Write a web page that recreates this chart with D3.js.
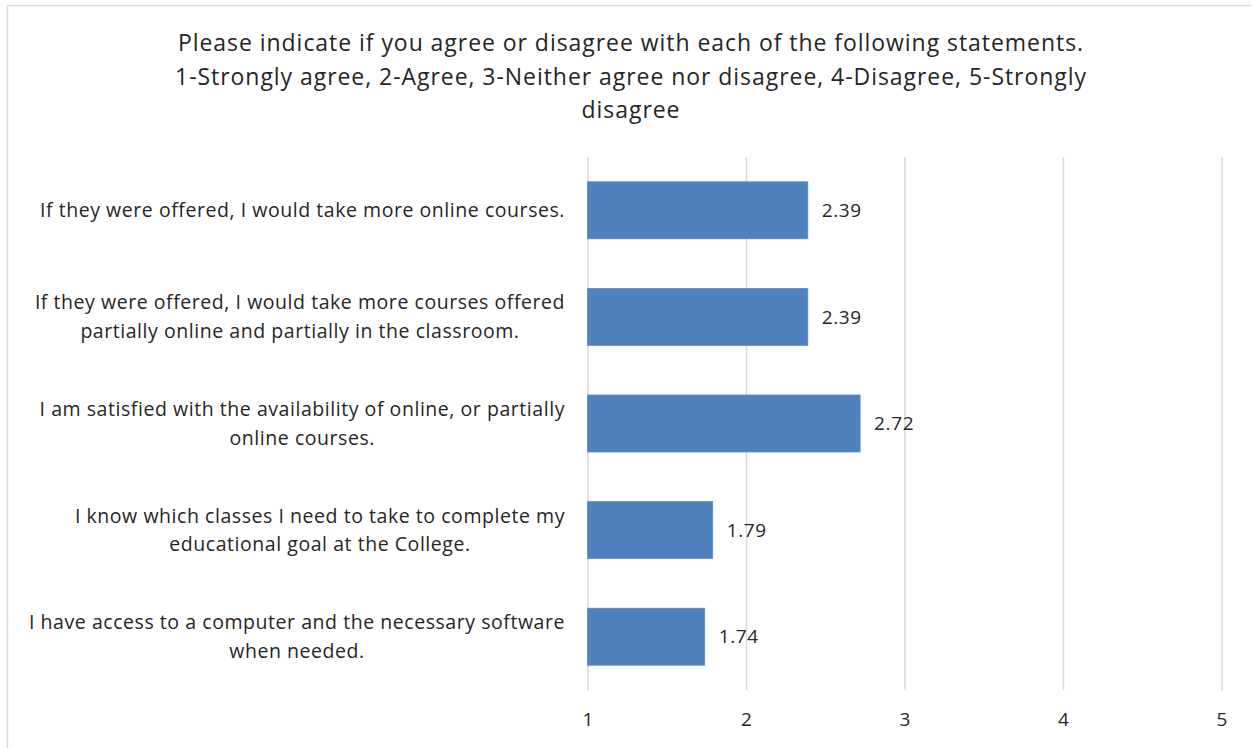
<!DOCTYPE html>
<html>
<head>
<meta charset="utf-8">
<script src="https://cdn.jsdelivr.net/npm/d3@7"></script>
<style>
  html, body { margin: 0; padding: 0; background: #fff; }
  svg { display: block; }
  text { font-family: "Open Sans", Lato, sans-serif; fill: #262626; }
</style>
</head>
<body>
<svg id="chart" width="1251" height="748"></svg>
<script>
// Survey statements (top to bottom) and their mean scores
const statements = [
  ["If they were offered, I would take more online courses."],
  ["If they were offered, I would take more courses offered", "partially online and partially in the classroom."],
  ["I am satisfied with the availability of online, or partially", "online courses."],
  ["I know which classes I need to take to complete my", "educational goal at the College."],
  ["I have access to a computer and the necessary software", "when needed."]
];
const meanScores = [2.39, 2.39, 2.72, 1.79, 1.74];
const scaleTicks = [1, 2, 3, 4, 5];
const titleLines = [
  "Please indicate if you agree or disagree with each of the following statements.",
  "1-Strongly agree, 2-Agree, 3-Neither agree nor disagree, 4-Disagree, 5-Strongly",
  "disagree"
];

const svg = d3.select("#chart");
const W = 1251, H = 748;

// chart frame
svg.append("rect")
  .attr("x", 7.5).attr("y", 5.5)
  .attr("width", W + 10).attr("height", H + 10)
  .attr("fill", "#fff")
  .attr("stroke", "#d9d9d9").attr("stroke-width", 1.5);

const plot = { left: 587.5, right: 1221.5, top: 157, bottom: 690 };

const x = d3.scaleLinear().domain([1, 5]).range([plot.left, plot.right]);
const y = d3.scaleBand()
  .domain(d3.range(statements.length))
  .range([plot.top, plot.bottom])
  .paddingInner(0.465)
  .paddingOuter(0.2325);

// title
const title = svg.append("text")
  .attr("text-anchor", "middle")
  .style("font-size", "23px")
  .style("letter-spacing", "0.95px");
titleLines.forEach((t, i) => {
  title.append("tspan")
    .attr("x", 631)
    .attr("y", 43 + i * 33.5)
    .attr("dy", "0.35em")
    .text(t);
});

// vertical gridlines
const xAxis = d3.axisBottom(x)
  .tickValues(scaleTicks)
  .tickFormat(d3.format("d"))
  .tickSize(-(plot.bottom - plot.top))
  .tickPadding(23);

const gx = svg.append("g")
  .attr("transform", `translate(0,${plot.bottom})`)
  .call(xAxis);
gx.select(".domain").remove();
gx.selectAll(".tick line")
  .attr("stroke", "#d9d9d9")
  .attr("stroke-width", 1.5);
gx.selectAll(".tick text")
  .style("font-size", "19px")
  .attr("fill", "#262626");

// bars
svg.append("g")
  .selectAll("rect")
  .data(meanScores)
  .join("rect")
  .attr("x", x(1))
  .attr("y", (d, i) => y(i))
  .attr("width", d => x(d) - x(1))
  .attr("height", y.bandwidth())
  .attr("fill", "#4f81bd")
  .attr("stroke", "#5b8cc6")
  .attr("stroke-width", 0.75);

// value labels
svg.append("g")
  .selectAll("text")
  .data(meanScores)
  .join("text")
  .attr("x", d => x(d) + 14)
  .attr("y", (d, i) => y(i) + y.bandwidth() / 2)
  .attr("dy", "0.35em")
  .style("font-size", "19px")
  .style("letter-spacing", "0.6px")
  .text(d => d3.format(".2f")(d));

// category labels: centred lines, block right-aligned to the plot edge
const labelRight = 565;
const lineH = 28.5;
const labels = svg.append("g")
  .style("font-size", "19.5px")
  .style("letter-spacing", "0.55px");
statements.forEach((lines, i) => {
  const g = labels.append("g");
  const t = g.append("text").attr("text-anchor", "middle");
  const cy = y(i) + y.bandwidth() / 2;
  const y0 = cy - (lines.length - 1) * lineH / 2;
  const spans = lines.map((line, j) =>
    t.append("tspan").attr("y", y0 + j * lineH).attr("dy", "0.35em").text(line));
  const maxW = d3.max(spans, s => s.node().getComputedTextLength());
  spans.forEach(s => s.attr("x", labelRight - maxW / 2));
});
</script>
</body>
</html>
